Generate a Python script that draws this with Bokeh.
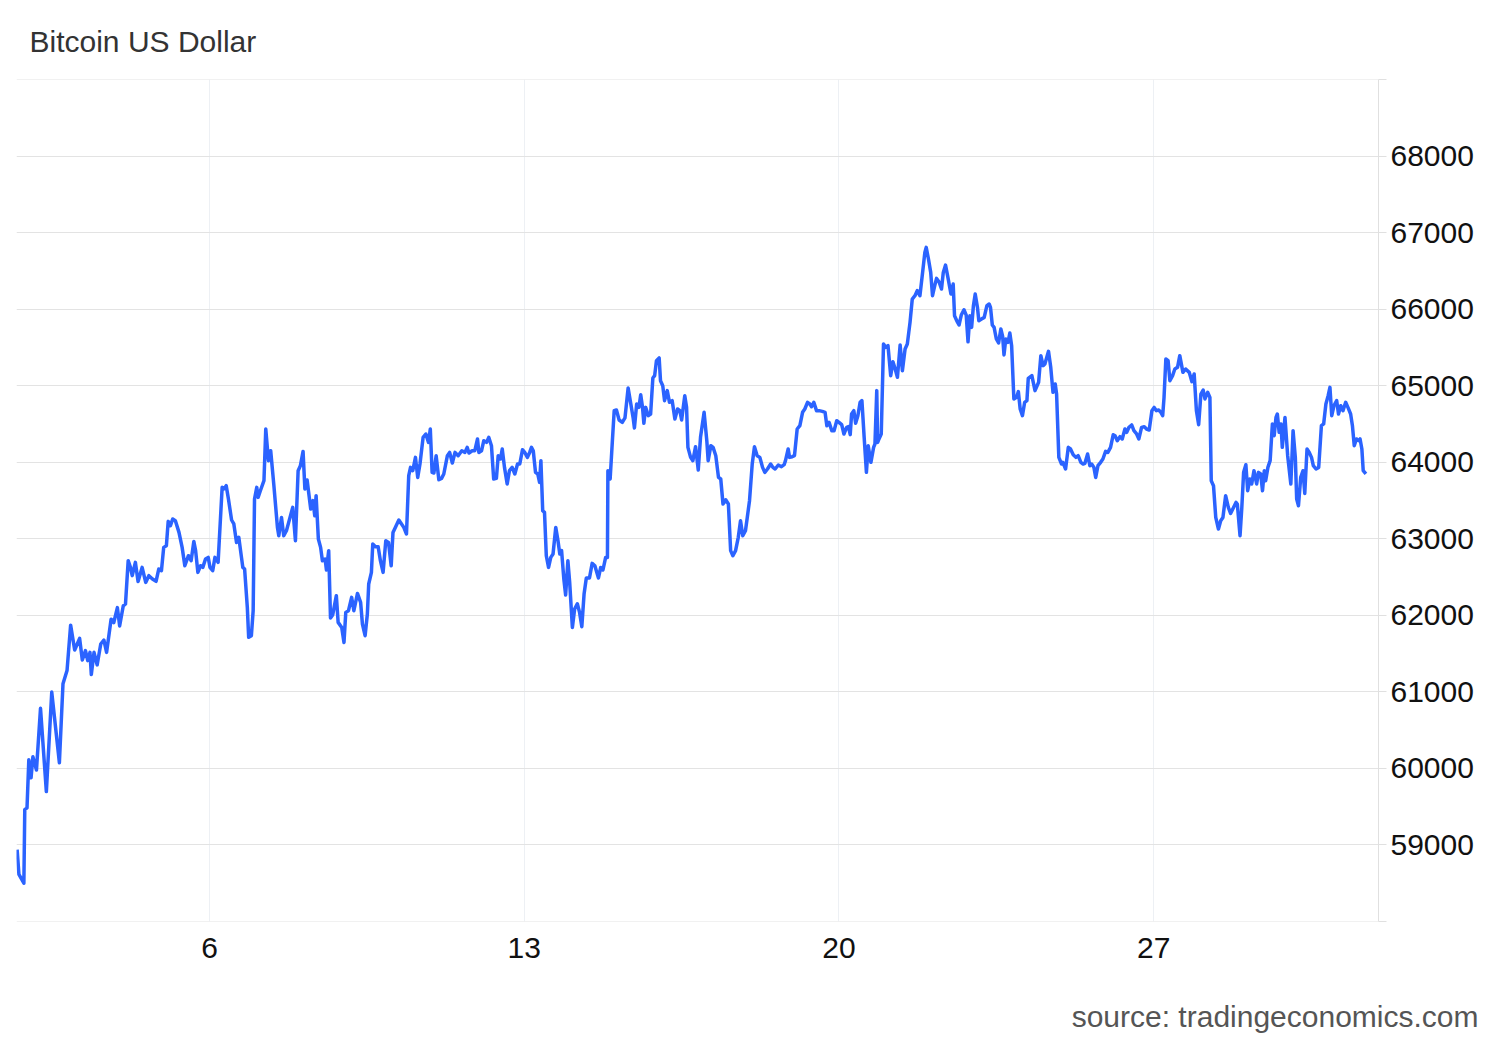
from bokeh.plotting import figure
from bokeh.models import Range1d, FixedTicker, Title
from bokeh.embed import file_html
from bokeh.resources import INLINE

# ---- data: day of month (fractional) and BTC/USD price ----
days_a = [1.72, 1.76, 1.87, 1.89, 1.94, 1.98, 2.03, 2.07, 2.15, 2.24,
          2.37, 2.49, 2.66, 2.74, 2.83, 2.91, 3.00, 3.11, 3.17, 3.24,
          3.29, 3.34, 3.37, 3.43, 3.50, 3.58, 3.65, 3.71, 3.81, 3.87,
          3.95, 4.00, 4.08, 4.13, 4.19, 4.24, 4.28, 4.35, 4.41, 4.50,
          4.58, 4.65, 4.73, 4.81, 4.87, 4.93, 4.98, 5.04, 5.08, 5.13,
          5.18, 5.24, 5.32, 5.39, 5.45, 5.53, 5.59, 5.65, 5.69, 5.74,
          5.80, 5.85, 5.91, 5.97, 6.01, 6.07, 6.12, 6.19, 6.28, 6.32,
          6.37, 6.42, 6.49, 6.54, 6.60, 6.65, 6.71, 6.74, 6.78, 6.84,
          6.87, 6.93, 6.97, 7.00, 7.05, 7.08, 7.13, 7.21, 7.25, 7.31,
          7.36, 7.43]
price_a = [58935, 58610, 58495, 59458, 59480, 60108, 59874, 60148, 59975, 60782,
           59693, 60994, 60070, 61103, 61276, 61870, 61545, 61696, 61415, 61536,
           61406, 61514, 61224, 61514, 61350, 61623, 61675, 61514, 61948, 61904,
           62099, 61860, 62121, 62146, 62713, 62625, 62517, 62691, 62442, 62625,
           62429, 62517, 62473, 62442, 62604, 62582, 62887, 62909, 63227, 63171,
           63258, 63236, 63083, 62887, 62647, 62778, 62713, 62965, 62844, 62560,
           62647, 62625, 62735, 62756, 62625, 62582, 62756, 62691, 63672, 63651,
           63694, 63520, 63245, 63193, 62952, 63018, 62756, 62625, 62604, 62102,
           61710, 61732, 62059, 63520, 63672, 63541, 63628, 63759, 64435, 64021,
           64151, 63700]

days_b = [7.51, 7.54, 7.60, 7.65, 7.71, 7.76, 7.85, 7.91, 7.97, 8.02,
          8.08, 8.12, 8.17, 8.25, 8.30, 8.34, 8.37, 8.42, 8.47, 8.51,
          8.57, 8.60, 8.65, 8.69, 8.74, 8.82, 8.86, 8.94, 8.99, 9.03,
          9.09, 9.16, 9.21, 9.29, 9.36, 9.40, 9.46, 9.51, 9.54, 9.60,
          9.63, 9.69, 9.75, 9.80, 9.86, 9.92, 9.98, 10.04, 10.08, 10.14,
          10.21, 10.27, 10.32, 10.38, 10.43, 10.47, 10.52, 10.58, 10.63, 10.68,
          10.75, 10.81, 10.87, 10.91]
price_b = [63148, 63040, 63279, 63040, 63105, 63214, 63410, 62974, 63890, 63955,
           64142, 63651, 63768, 63389, 63498, 63301, 63563, 62997, 62887, 62713,
           62735, 62591, 62844, 61963, 62007, 62255, 61906, 61840, 61644, 62037,
           62059, 62233, 62059, 62285, 62167, 61885, 61732, 62016, 62408, 62560,
           62931, 62896, 62896, 62713, 62560, 62974, 62952, 62647, 63083, 63158,
           63245, 63193, 63148, 63062, 63825, 63933, 63890, 64064, 63802, 63977,
           64326, 64370, 64260, 64435]

days_c = [10.95, 10.99, 11.04, 11.10, 11.16, 11.21, 11.29, 11.34, 11.40, 11.46,
          11.53, 11.61, 11.68, 11.73, 11.77, 11.84, 11.90, 11.96, 11.99, 12.05,
          12.10, 12.16, 12.21, 12.27, 12.32, 12.38, 12.42, 12.47, 12.51, 12.56,
          12.62, 12.67, 12.73, 12.79, 12.85, 12.90, 12.96, 13.01, 13.07, 13.12,
          13.16, 13.20, 13.25, 13.30, 13.34, 13.37, 13.41, 13.45, 13.49, 13.54,
          13.59, 13.64, 13.70, 13.75, 13.79, 13.83, 13.88, 13.92, 13.97, 14.01,
          14.07, 14.12, 14.18, 14.23]
price_c = [63868, 63860, 64086, 63772, 63789, 63847, 64086, 64129, 63991, 64129,
           64086, 64151, 64129, 64195, 64121, 64151, 64151, 64305, 64129, 64151,
           64282, 64260, 64326, 64217, 63781, 63789, 64086, 64043, 64173, 63933,
           63715, 63890, 63933, 63847, 63977, 63977, 64164, 64129, 64064, 64129,
           64195, 64151, 63868, 63847, 63737, 64021, 63367, 63345, 62778, 62625,
           62756, 62800, 63148, 62974, 62800, 62844, 62473, 62264, 62713, 62429,
           61840, 62081, 62150, 62037]

days_d = [14.28, 14.33, 14.38, 14.45, 14.51, 14.57, 14.65, 14.70, 14.75, 14.81,
          14.85, 14.86, 14.91, 14.96, 15.00, 15.05, 15.11, 15.18, 15.24, 15.31,
          15.37, 15.42, 15.45, 15.50, 15.55, 15.59, 15.63, 15.66, 15.70, 15.76,
          15.81, 15.86, 15.90, 15.94, 16.00, 16.03, 16.08, 16.12, 16.18, 16.23,
          16.29, 16.35, 16.41, 16.46, 16.50, 16.57, 16.61, 16.64, 16.70, 16.75,
          16.81, 16.87, 16.92, 17.00, 17.06, 17.09, 17.15, 17.20, 17.26, 17.32,
          17.37, 17.42, 17.48]
price_d = [61850, 62277, 62487, 62487, 62678, 62647, 62487, 62625, 62591, 62756,
           62756, 63890, 63781, 64282, 64674, 64684, 64553, 64522, 64580, 64972,
           64762, 64587, 64449, 64762, 64718, 64884, 64718, 64509, 64718, 64609,
           64631, 65102, 65133, 65329, 65364, 65067, 65002, 64806, 64937, 64784,
           64806, 64566, 64697, 64675, 64553, 64871, 64718, 64195, 64064, 64021,
           64204, 63899, 64326, 64653, 64282, 64021, 64217, 64195, 64086, 63802,
           63781, 63454, 63510]

days_e = [17.54, 17.59, 17.64, 17.70, 17.76, 17.81, 17.86, 17.92, 17.96, 18.01,
          18.07, 18.12, 18.18, 18.24, 18.30, 18.35, 18.41, 18.48, 18.53, 18.58,
          18.65, 18.72, 18.78, 18.81, 18.87, 18.90, 18.96, 19.01, 19.07, 19.13,
          19.19, 19.24, 19.30, 19.35, 19.39, 19.44, 19.50, 19.56, 19.63, 19.69,
          19.73, 19.78, 19.84, 19.89, 19.95, 20.00, 20.06, 20.11, 20.17, 20.21,
          20.25, 20.28, 20.33, 20.37, 20.42, 20.47, 20.51, 20.56, 20.61, 20.65,
          20.71, 20.77, 20.80, 20.84]
price_e = [63454, 62844, 62778, 62844, 63018, 63236, 63040, 63105, 63279, 63498,
           63977, 64204, 64086, 64064, 63933, 63868, 63912, 63977, 63933, 63912,
           63964, 63942, 63968, 64021, 64174, 64064, 64073, 64086, 64435, 64479,
           64653, 64697, 64784, 64762, 64727, 64784, 64675, 64675, 64666, 64653,
           64479, 64522, 64413, 64413, 64544, 64522, 64492, 64370, 64457, 64466,
           64361, 64631, 64675, 64509, 64609, 64784, 64806, 64326, 63868, 64217,
           63999, 64195, 64239, 64937]

days_f = [20.86, 20.89, 20.94, 20.99, 21.04, 21.09, 21.15, 21.20, 21.25, 21.30,
          21.36, 21.41, 21.47, 21.52, 21.58, 21.63, 21.69, 21.74, 21.80, 21.86,
          21.91, 21.94, 21.99, 22.04, 22.08, 22.13, 22.17, 22.23, 22.28, 22.32,
          22.37, 22.43, 22.49, 22.54, 22.57, 22.63, 22.67, 22.72, 22.78, 22.83,
          22.87, 22.91, 22.95, 22.99, 23.03, 23.08, 23.11, 23.17, 23.23, 23.29,
          23.34, 23.37, 23.41, 23.45, 23.50, 23.55, 23.60, 23.64, 23.67, 23.71,
          23.76, 23.80, 23.84, 23.89, 23.95, 23.99, 24.03, 24.08, 24.13, 24.18,
          24.21]
price_f = [64260, 64305, 64370, 65547, 65503, 65525, 65133, 65316, 65220, 65111,
           65534, 65198, 65481, 65547, 65830, 66135, 66178, 66244, 66178, 66483,
           66745, 66810, 66658, 66483, 66178, 66309, 66405, 66353, 66266, 66483,
           66579, 66396, 66200, 66331, 65916, 65838, 65795, 65925, 65995, 65925,
           65576, 65916, 65764, 66048, 66200, 66025, 65852, 65874, 65895, 66048,
           66070, 66025, 65795, 65764, 65612, 65560, 65743, 65647, 65404, 65612,
           65568, 65691, 65525, 64828, 64849, 64924, 64697, 64609, 64784, 64806,
           65098]

days_g = [24.29, 24.36, 24.44, 24.49, 24.54, 24.58, 24.66, 24.71, 24.76, 24.81,
          24.84, 24.89, 24.95, 24.98, 25.04, 25.10, 25.15, 25.21, 25.27, 25.32,
          25.38, 25.43, 25.47, 25.53, 25.58, 25.62, 25.67, 25.71, 25.76, 25.82,
          25.87, 25.93, 25.98, 26.04, 26.10, 26.14, 26.19, 26.25, 26.30, 26.36,
          26.40, 26.45, 26.51, 26.56, 26.62, 26.67, 26.73, 26.79, 26.84, 26.90,
          26.96, 27.01, 27.06, 27.11, 27.16, 27.20, 27.23, 27.27, 27.32, 27.36,
          27.42, 27.47, 27.53, 27.58]
price_g = [65133, 64937, 65046, 65394, 65264, 65286, 65451, 65242, 64915, 65024,
           64893, 64064, 63977, 63999, 63912, 64195, 64174, 64099, 64064, 64086,
           63999, 63977, 63986, 64108, 63955, 63977, 63933, 63802, 63955, 63999,
           64043, 64142, 64129, 64195, 64361, 64348, 64282, 64335, 64305, 64435,
           64392, 64457, 64488, 64413, 64370, 64305, 64457, 64466, 64435, 64422,
           64675, 64718, 64675, 64684, 64653, 64609, 64849, 65351, 65329, 65067,
           65133, 65220, 65242, 65394]

days_h = [27.65, 27.71, 27.79, 27.85, 27.90, 27.95, 28.00, 28.05, 28.10, 28.14,
          28.20, 28.25, 28.28, 28.33, 28.38, 28.44, 28.49, 28.54, 28.60, 28.66,
          28.71, 28.77, 28.83, 28.86, 28.92, 28.96, 29.00, 29.05, 29.09, 29.14,
          29.18, 29.23, 29.29, 29.33, 29.38, 29.42, 29.46, 29.49, 29.54, 29.59,
          29.64, 29.68, 29.72, 29.75, 29.79, 29.83, 29.86, 29.92, 29.98, 30.05,
          30.10, 30.15, 30.18, 30.22, 30.27, 30.32, 30.36, 30.41, 30.46, 30.51,
          30.55, 30.61, 30.67, 30.73, 30.78, 30.83, 30.88, 30.92, 30.96, 31.01,
          31.07, 31.11, 31.16, 31.21, 31.27, 31.32, 31.38, 31.42, 31.46, 31.51,
          31.56, 31.59, 31.63, 31.66, 31.72]
price_h = [65176, 65220, 65176, 65054, 65155, 64675, 64492, 64893, 64945, 64828,
           64915, 64849, 63759, 63694, 63279, 63127, 63236, 63279, 63563, 63410,
           63332, 63402, 63475, 63454, 63040, 63410, 63868, 63968, 63628, 63781,
           63716, 63890, 63716, 63868, 63847, 63628, 63890, 63759, 63933, 64021,
           64501, 64348, 64587, 64631, 64392, 64501, 64195, 64587, 64086, 63716,
           64413, 64064, 63520, 63432, 63802, 63890, 63593, 64174, 64129, 64064,
           63955, 63912, 63933, 64479, 64501, 64762, 64871, 64980, 64609, 64740,
           64806, 64631, 64740, 64675, 64784, 64718, 64631, 64479, 64217, 64305,
           64282, 64305, 64174, 63890, 63847]

days = days_a + days_b + days_c + days_d + days_e + days_f + days_g + days_h
prices = price_a + price_b + price_c + price_d + price_e + price_f + price_g + price_h

x_ticks = [6, 13, 20, 27]
y_grid_values = [58000, 59000, 60000, 61000, 62000, 63000, 64000, 65000,
                 66000, 67000, 68000, 69000]
y_tick_labels = ["", "59000", "60000", "61000", "62000", "63000", "64000",
                 "65000", "66000", "67000", "68000", ""]

title_text = "Bitcoin US Dollar"
source_text = "source: tradingeconomics.com"

# ---- styling ----
LINE_COLOR = "#2b63ff"
GRID_Y = "#e3e3e3"
GRID_X = "#edf0f4"
FONT = "Liberation Sans"
FS = "30px"

p = figure(width=1492, height=1038, output_backend="svg", toolbar_location=None,
           x_range=Range1d(1.706, 32.0), y_range=Range1d(57994, 69006),
           y_axis_location="right",
           min_border_left=16, min_border_right=114,
           min_border_top=79, min_border_bottom=117)
p.outline_line_color = None
p.background_fill_color = "white"
p.border_fill_color = "white"

p.title.text = title_text
p.title.text_font = FONT
p.title.text_font_size = FS
p.title.text_font_style = "normal"
p.title.text_color = "#333333"
p.title.offset = 13
p.title.standoff = 44

p.line(days, prices, line_color=LINE_COLOR, line_width=3.5, line_join="round")

# y axis (right)
yax = p.yaxis[0]
yax.ticker = FixedTicker(ticks=y_grid_values)
yax.major_label_overrides = {v: t for v, t in zip(y_grid_values, y_tick_labels)}
yax.axis_line_color = "#e0e0e0"
yax.major_tick_line_color = "#e0e0e0"
yax.major_tick_out = 8
yax.major_tick_in = 0
yax.minor_tick_line_color = None
yax.major_label_text_font = FONT
yax.major_label_text_font_size = FS
yax.major_label_text_color = "#111111"
yax.major_label_standoff = 4

# x axis (a blank axis label only reserves space above the source note)
xax = p.xaxis[0]
xax.ticker = FixedTicker(ticks=x_ticks)
xax.major_label_overrides = {v: str(v) for v in x_ticks}
xax.axis_line_color = None
xax.major_tick_line_color = None
xax.minor_tick_line_color = None
xax.major_label_text_font = FONT
xax.major_label_text_font_size = FS
xax.major_label_text_color = "#111111"
xax.major_label_standoff = 10
xax.axis_label = " "
xax.axis_label_text_font_size = "10px"
xax.axis_label_standoff = 23

p.ygrid.ticker = FixedTicker(ticks=y_grid_values)
p.ygrid.grid_line_color = GRID_Y
p.ygrid.grid_line_width = 1
p.xgrid.ticker = FixedTicker(ticks=x_ticks)
p.xgrid.grid_line_color = GRID_X
p.xgrid.grid_line_width = 1

src = Title(text=source_text, align="right", offset=-100,
            text_font=FONT, text_font_size=FS, text_font_style="normal",
            text_color="#555555", standoff=0)
p.add_layout(src, "below")

open("out.html", "w").write(file_html(p, INLINE))
